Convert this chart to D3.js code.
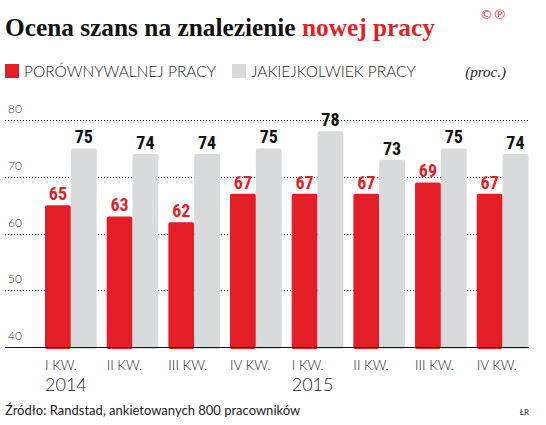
<!DOCTYPE html>
<html>
<head>
<meta charset="utf-8">
<script src="https://cdn.jsdelivr.net/npm/d3@7"></script>
<style>
  body { margin: 0; background: #fff; }
  svg { display: block; }
</style>
</head>
<body>
<div id="chart"></div>
<script>
// data
const quarters = ["I KW.", "II KW.", "III KW.", "IV KW.", "I KW.", "II KW.", "III KW.", "IV KW."];
const years = ["2014", "", "", "", "2015", "", "", ""];
const comparable = [65, 63, 62, 67, 67, 67, 69, 67];
const anyJob = [75, 74, 74, 75, 78, 73, 75, 74];
const seriesNames = ["PORÓWNYWALNEJ PRACY", "JAKIEJKOLWIEK PRACY"];
const yTicks = [40, 50, 60, 70, 80];

const RED = "#e41e26", GREY = "#d9dadb";
const SANS = "Lato, 'Open Sans', sans-serif";

const W = 546, H = 425;
const svg = d3.select("#chart").append("svg")
  .attr("width", W).attr("height", H);

// title
const title = svg.append("text")
  .attr("x", 5).attr("y", 36)
  .style("font-family", "'Liberation Serif', serif")
  .style("font-weight", "bold")
  .style("font-size", "24px")
  .attr("fill", "#111");
title.append("tspan").text("Ocena szans na znalezienie ");
title.append("tspan").attr("fill", RED).text("nowej pracy");
const tw = title.node().getComputedTextLength();
title.style("font-size", (24 * 430 / tw) + "px");

svg.append("text")
  .attr("x", 506).attr("y", 19)
  .attr("text-anchor", "end")
  .style("font-family", "'DejaVu Sans', sans-serif")
  .style("font-size", "13px")
  .attr("fill", RED)
  .text("©℗");

// legend
const legend = [
  {name: seriesNames[0], color: RED, x: 5},
  {name: seriesNames[1], color: GREY, x: 232}
];
legend.forEach(d => {
  svg.append("rect")
    .attr("x", d.x).attr("y", 64).attr("width", 14).attr("height", 14)
    .attr("fill", d.color);
  svg.append("text")
    .attr("x", d.x + 19).attr("y", 77)
    .style("font-family", SANS).style("font-weight", 300)
    .style("font-size", "15.5px").attr("fill", "#222")
    .text(d.name);
});
svg.append("text")
  .attr("x", 506).attr("y", 77)
  .attr("text-anchor", "end")
  .style("font-family", "'Liberation Serif', serif")
  .style("font-style", "italic")
  .style("font-size", "15px").attr("fill", "#222")
  .text("(proc.)");

// scales
const y = d3.scaleLinear().domain([40, 80]).range([347, 120]);
const x0 = d3.scaleBand()
  .domain(d3.range(quarters.length))
  .range([45, 528.4])
  .paddingInner(0.162)
  .paddingOuter(0);
const x1 = d3.scaleBand()
  .domain([0, 1])
  .range([0, x0.bandwidth()]);

// gridlines + tick labels
const grid = svg.append("g");
grid.selectAll("line")
  .data(yTicks.filter(t => t > 40))
  .join("line")
    .attr("x1", 5).attr("x2", 529)
    .attr("y1", d => Math.round(y(d)) + 0.5)
    .attr("y2", d => Math.round(y(d)) + 0.5)
    .attr("stroke", "#222")
    .attr("stroke-width", 1)
    .attr("stroke-dasharray", "1,2");
grid.selectAll("text")
  .data(yTicks)
  .join("text")
    .attr("x", 8)
    .attr("y", d => y(d) - 7)
    .style("font-family", SANS).style("font-weight", 300)
    .style("font-size", "12px").attr("fill", "#333")
    .text(d => d);

// bars
const rows = quarters.map((q, i) => ({i, values: [comparable[i], anyJob[i]]}));
const groups = svg.append("g").selectAll("g")
  .data(rows)
  .join("g")
    .attr("transform", d => `translate(${x0(d.i)},0)`);

groups.selectAll("rect")
  .data(d => d.values.map((v, s) => ({v, s})))
  .join("rect")
    .attr("x", d => x1(d.s))
    .attr("y", d => y(d.v))
    .attr("width", x1.bandwidth())
    .attr("height", d => y(40) - y(d.v) + 2)
    .attr("rx", 2)
    .attr("fill", d => d.s === 0 ? RED : GREY);

groups.selectAll("text.val")
  .data(d => d.values.map((v, s) => ({v, s})))
  .join("text")
    .attr("class", "val")
    .attr("x", d => x1(d.s) + x1.bandwidth() / 2)
    .attr("y", d => y(d.v) - 5)
    .attr("text-anchor", "middle")
    .style("font-family", "'Liberation Sans Narrow', 'Roboto Condensed', Roboto, sans-serif")
    .style("font-weight", "bold")
    .style("font-size", "18px")
    .attr("fill", d => d.s === 0 ? RED : "#111")
    .text(d => d.v);

// baseline axis
const axis = svg.append("g")
  .attr("transform", `translate(0,${y(40)})`)
  .call(d3.axisBottom(x0).tickSize(0).tickFormat(""));
axis.select(".domain")
  .attr("d", "M5,0.5H529")
  .attr("stroke", "#111").attr("stroke-width", 1.2);

// category labels
groups.append("text")
  .attr("x", 0).attr("y", 370)
  .style("font-family", SANS).style("font-weight", 300)
  .style("font-size", "13.5px").attr("fill", "#222")
  .text(d => quarters[d.i]);
groups.filter(d => years[d.i] !== "").append("text")
  .attr("x", 0).attr("y", 391)
  .style("font-family", SANS).style("font-weight", 300)
  .style("font-size", "18px").attr("fill", "#222")
  .text(d => years[d.i]);

// footer
svg.append("text")
  .attr("x", 5).attr("y", 415)
  .style("font-family", SANS)
  .style("font-size", "13px").attr("fill", "#222")
  .text("Źródło: Randstad, ankietowanych 800 pracowników");
svg.append("text")
  .attr("x", 529).attr("y", 415)
  .attr("text-anchor", "end")
  .style("font-family", SANS)
  .style("font-size", "8px").attr("fill", "#222")
  .text("ŁR");
</script>
</body>
</html>
